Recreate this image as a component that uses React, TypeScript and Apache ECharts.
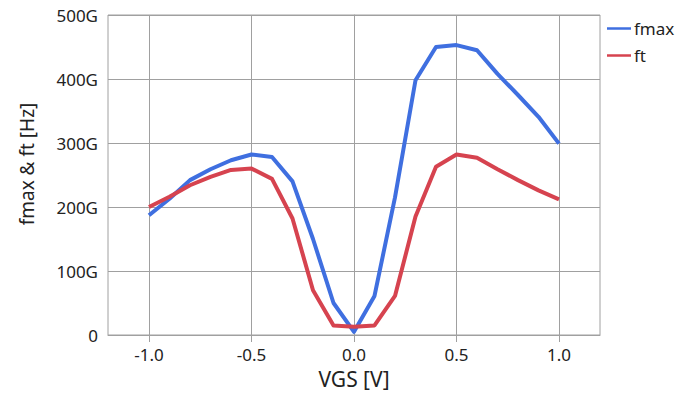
import React, { useEffect, useRef } from "react";
import * as echarts from "echarts";

const vgs = [-1.0, -0.9, -0.8, -0.7, -0.6, -0.5, -0.4, -0.3, -0.2, -0.1, 0.0, 0.1, 0.2, 0.3, 0.4, 0.5, 0.6, 0.7, 0.8, 0.9, 1.0];
const fmax = [187, 213, 242, 259, 273, 282, 278, 240, 150, 50, 5, 61, 215, 398, 450, 453, 445, 408, 375, 341, 299];
const ft = [200, 216, 234, 247, 258, 260, 244, 182, 70, 15, 13, 15, 61, 185, 263, 282, 277, 259, 242, 226, 212];
const xTicks = [-1.0, -0.5, 0.0, 0.5, 1.0];
const seriesNames = ["fmax", "ft"];
const colors = ["#3f6fe0", "#d6434f"];

const FONT = "'Noto Sans', 'Open Sans', sans-serif";

export default function App() {
  const ref = useRef<HTMLDivElement>(null);
  useEffect(() => {
    if (!ref.current) return;
    const chart = echarts.init(ref.current, undefined, { renderer: "svg" });
    const mk = (vals: number[]) => vgs.map((x, i) => [x, vals[i]]);
    chart.setOption({
      animation: false,
      textStyle: { fontFamily: FONT },
      grid: {
        left: 108,
        top: 15,
        width: 492,
        height: 320,
        show: true,
        borderColor: "#a0a0a0",
        borderWidth: 1,
        containLabel: false,
      },
      legend: {
        orient: "vertical",
        left: 607,
        top: 20,
        padding: 0,
        itemWidth: 24,
        itemHeight: 2.5,
        itemGap: 10,
        icon: "rect",
        textStyle: { fontSize: 17, color: "#222", fontFamily: FONT, padding: [0, 0, 0, -2] },
        data: seriesNames,
      },
      xAxis: {
        type: "value",
        min: -1.2,
        max: 1.2,
        name: "VGS [V]",
        nameLocation: "middle",
        nameGap: 33,
        nameTextStyle: { fontSize: 21, color: "#222", fontFamily: FONT },
        axisLine: { show: true, lineStyle: { color: "#a0a0a0", width: 1 } },
        axisTick: { show: true, length: 7, customValues: xTicks, lineStyle: { color: "#a0a0a0" } },
        axisLabel: {
          customValues: xTicks,
          fontSize: 17,
          color: "#222",
          margin: 11,
          formatter: (v: number) => v.toFixed(1),
        },
        splitLine: { show: true, lineStyle: { color: "#a0a0a0", width: 1 } },
      },
      yAxis: {
        type: "value",
        min: 0,
        max: 500,
        interval: 100,
        name: "fmax & ft [Hz]",
        nameLocation: "middle",
        nameGap: 72,
        nameTextStyle: { fontSize: 19, color: "#222", fontFamily: FONT, padding: [0, 0, 0, 22] },
        axisLine: { show: true, lineStyle: { color: "#a0a0a0", width: 1 } },
        axisTick: { show: true, length: 7, lineStyle: { color: "#a0a0a0" } },
        axisLabel: {
          fontSize: 17,
          color: "#222",
          margin: 10,
          formatter: (v: number) => (v === 0 ? "0" : v + "G"),
        },
        splitLine: { show: true, lineStyle: { color: "#a0a0a0", width: 1 } },
      },
      series: [
        {
          name: seriesNames[0],
          type: "line",
          data: mk(fmax),
          symbol: "none",
          showSymbol: false,
          color: colors[0],
          lineStyle: { width: 4, color: colors[0], join: "round" },
        },
        {
          name: seriesNames[1],
          type: "line",
          data: mk(ft),
          symbol: "none",
          showSymbol: false,
          color: colors[1],
          lineStyle: { width: 4, color: colors[1], join: "round" },
        },
      ],
    });
    return () => chart.dispose();
  }, []);
  return (
    <div
      ref={ref}
      style={{ position: "fixed", left: 0, top: 0, width: 692, height: 403, background: "#fff" }}
    />
  );
}
